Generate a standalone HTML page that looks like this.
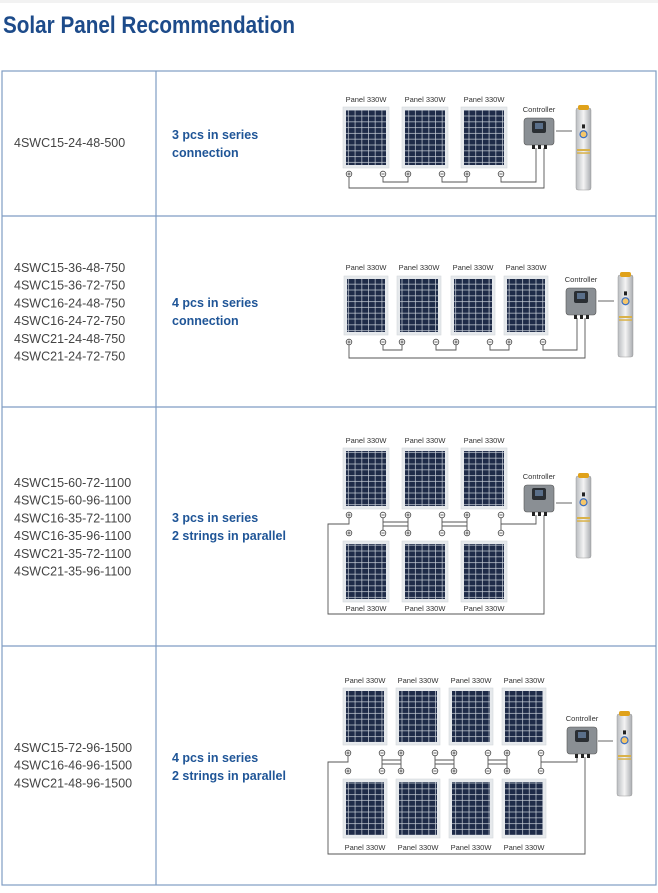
<!DOCTYPE html>
<html><head><meta charset="utf-8"><style>
body{margin:0;background:#fff;width:658px;height:888px;overflow:hidden;font-family:"Liberation Sans",sans-serif}
</style></head><body>
<svg id="s" width="658" height="888" xmlns="http://www.w3.org/2000/svg">
<defs>
<pattern id="cells" width="6.7" height="5.8" patternUnits="userSpaceOnUse">
<rect width="6.7" height="5.8" fill="#c9d0d8"/>
<rect x="0.35" y="0.35" width="6" height="5.1" fill="#1e2b48"/>
</pattern>
<linearGradient id="pg" x1="0" x2="1"><stop offset="0" stop-color="#b9bcc0"/><stop offset="0.5" stop-color="#f4f4f4"/><stop offset="1" stop-color="#a9acb0"/></linearGradient>
</defs>
<rect x="0" y="0" width="658" height="3" fill="#f2f2f2"/>
<text x="3" y="33" font-size="24" font-weight="bold" fill="#1d4b8a" textLength="292" lengthAdjust="spacingAndGlyphs">Solar Panel Recommendation</text>
<g stroke="#7f9cc3" stroke-width="1.2" fill="none">
<rect x="2" y="71" width="654" height="814"/>
<line x1="156" y1="71" x2="156" y2="885"/>
<line x1="2" y1="216" x2="656" y2="216"/>
<line x1="2" y1="407" x2="656" y2="407"/>
<line x1="2" y1="646" x2="656" y2="646"/>
</g>
<g id="txt" font-size="12.5" fill="#444"></g>
<g id="dg"></g>
</svg>
<script>
var NS="http://www.w3.org/2000/svg",s=document.getElementById('dg'),T=document.getElementById('txt');
function el(p,tag,a,txt){var e=document.createElementNS(NS,tag);for(var k in a)e.setAttribute(k,a[k]);if(txt!=null)e.textContent=txt;p.appendChild(e);return e;}
function t(x,y,str,o){o=o||{};var a={x:x,y:y};for(var k in o)a[k]=o[k];el(s,'text',a,str);}
function models(list,y0){list.forEach(function(m,i){el(T,'text',{x:14,y:y0+i*17.7},m);});}
models(["4SWC15-24-48-500"],147);
models(["4SWC15-36-48-750","4SWC15-36-72-750","4SWC16-24-48-750","4SWC16-24-72-750","4SWC21-24-48-750","4SWC21-24-72-750"],272);
models(["4SWC15-60-72-1100","4SWC15-60-96-1100","4SWC16-35-72-1100","4SWC16-35-96-1100","4SWC21-35-72-1100","4SWC21-35-96-1100"],487);
models(["4SWC15-72-96-1500","4SWC16-46-96-1500","4SWC21-48-96-1500"],752);
function blue(l,y){l.forEach(function(x,i){t(172,y+i*18,x,{'font-size':12.5,'font-weight':'bold',fill:'#1f5597'});});}
blue(["3 pcs in series","connection"],139);
blue(["4 pcs in series","connection"],307);
blue(["3 pcs in series","2 strings in parallel"],522);
blue(["4 pcs in series","2 strings in parallel"],762);
function panel(x,y,w,h){el(s,'rect',{x:x,y:y,width:w,height:h,fill:'#e6e9ec',stroke:'#d4d8dc','stroke-width':0.6});el(s,'rect',{x:x+3,y:y+3,width:w-6,height:h-6,fill:'url(#cells)'});}
function lbl(x,y,w){t(x+w/2,y,"Panel 330W",{'font-size':7.5,fill:'#333','text-anchor':'middle'});}
function term(x,y,plus){el(s,'circle',{cx:x,cy:y,r:2.8,fill:'#fff',stroke:'#444','stroke-width':0.8});el(s,'line',{x1:x-1.6,y1:y,x2:x+1.6,y2:y,stroke:'#444','stroke-width':0.8});if(plus)el(s,'line',{x1:x,y1:y-1.6,x2:x,y2:y+1.6,stroke:'#444','stroke-width':0.8});}
function wire(pts){el(s,'polyline',{points:pts,fill:'none',stroke:'#555','stroke-width':0.9});}
function ctrl(x,y){t(x+15,y-6,"Controller",{'font-size':7.5,fill:'#333','text-anchor':'middle'});
el(s,'rect',{x:x,y:y,width:30,height:27,rx:3,fill:'#8a8f94',stroke:'#555','stroke-width':0.6});
el(s,'rect',{x:x+8,y:y+3,width:14,height:12,rx:2,fill:'#2a2e33'});
el(s,'rect',{x:x+11,y:y+5,width:8,height:6,fill:'#5a6f8a'});
[8,14,20].forEach(function(d){el(s,'rect',{x:x+d,y:y+27,width:3,height:4,fill:'#222'});});}
function pump(x,y,h,cx,cy){el(s,'line',{x1:cx,y1:cy,x2:x-4,y2:cy,stroke:'#555','stroke-width':0.9});
el(s,'rect',{x:x,y:y,width:15,height:h,rx:2,fill:'url(#pg)',stroke:'#999','stroke-width':0.5});
el(s,'rect',{x:x+2,y:y-3,width:11,height:5,rx:2,fill:'#e0a21a'});
el(s,'circle',{cx:x+7.5,cy:y+h*0.32,r:3.5,fill:'#f6c76a',stroke:'#3c6fc0','stroke-width':1.2});
el(s,'rect',{x:x+6,y:y+h*0.2,width:3,height:4,fill:'#222'});
el(s,'rect',{x:x+1,y:y+h*0.5,width:13,height:2,fill:'#d9b24a'});
el(s,'rect',{x:x+1,y:y+h*0.54,width:13,height:1.5,fill:'#d9b24a'});}
[343,402,461].forEach(function(x){panel(x,107,46,61);lbl(x,102,46);term(x+6,174,1);term(x+40,174,0);});
wire("383,177 383,182 408,182 408,177");wire("442,177 442,182 467,182 467,177");
wire("349,177 349,188 544,188 544,148");wire("501,177 501,182 536,182 536,148");
ctrl(524,118);pump(576,108,82,556,131);
[344,397,451,504].forEach(function(x){panel(x,276,44,59);lbl(x,270,44);term(x+5,342,1);term(x+39,342,0);});
wire("383,345 383,350 402,350 402,345");wire("436,345 436,350 456,350 456,345");wire("490,345 490,350 509,350 509,345");
wire("349,345 349,358 585,358 585,318");wire("543,345 543,350 577,350 577,318");
ctrl(566,288);pump(618,275,82,598,301);
[343,402,461].forEach(function(x){panel(x,448,46,61);lbl(x,443,46);panel(x,541,46,61);lbl(x,611,46);
term(x+6,515,1);term(x+40,515,0);term(x+6,533,1);term(x+40,533,0);});
wire("383,518 383,530");wire("408,518 408,530");wire("442,518 442,530");wire("467,518 467,530");
wire("383,522 408,522");wire("383,526 408,526");wire("442,522 467,522");wire("442,526 467,526");
wire("349,518 349,524 328,524 328,614 544,614 544,515");
wire("501,518 501,530");wire("501,524 536,524 536,515");
ctrl(524,485);pump(576,476,82,556,503);
[343,396,449,502].forEach(function(x){panel(x,688,44,57);lbl(x,683,44);panel(x,779,44,59);lbl(x,850,44);
term(x+5,753,1);term(x+39,753,0);term(x+5,771,1);term(x+39,771,0);});
[382,401,435,454,488,507].forEach(function(x){wire(x+",756 "+x+",768");});
wire("382,760 401,760");wire("382,764 401,764");wire("435,760 454,760");wire("435,764 454,764");wire("488,760 507,760");wire("488,764 507,764");
wire("348,756 348,762 328,762 328,854 585,854 585,757");
wire("541,756 541,768");wire("541,762 577,762 577,757");
ctrl(567,727);pump(617,714,82,598,741);
</script>
</body></html>
